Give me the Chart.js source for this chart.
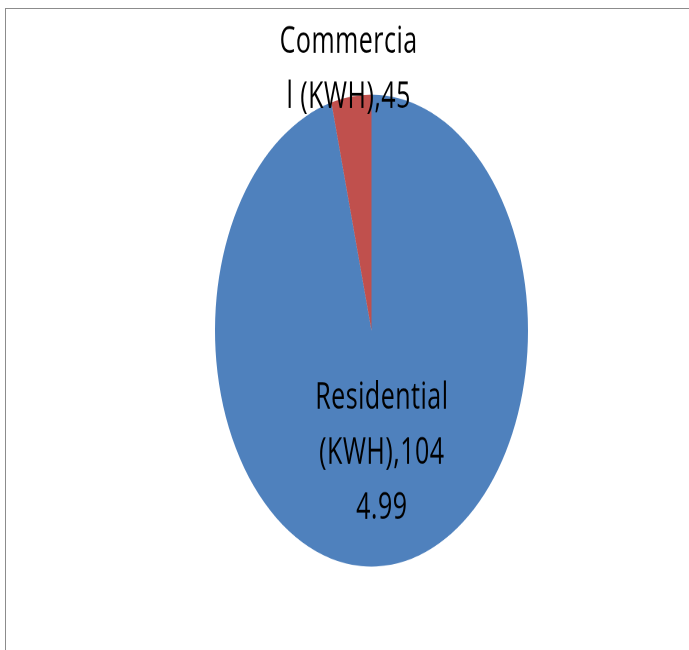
<!DOCTYPE html>
<html>
<head>
<meta charset="utf-8">
<script src="https://cdn.jsdelivr.net/npm/chart.js@4.4.0/dist/chart.umd.min.js"></script>
<style>
  html, body { margin: 0; padding: 0; background: #fff; }
  #page { position: relative; width: 689px; height: 650px; overflow: hidden; }
  #frame { position: absolute; left: 5px; top: 8px; width: 700px; height: 660px;
           border-top: 1px solid #8c8c8c; border-left: 1px solid #8c8c8c; }
  /* the source picture is stretched vertically, so the chart is drawn flat and scaled */
  #stretch { position: absolute; left: 0; top: 0; width: 689px; height: 431px;
             transform: scaleY(1.508); transform-origin: 0 0; }
</style>
</head>
<body>
<div id="page">
  <div id="frame"></div>
  <div id="stretch"><canvas id="pieChart"></canvas></div>
</div>
<script>
// data
const categories = ['Residential (KWH)', 'Commercial (KWH)'];
const values = [1044.99, 45];
// data label text as wrapped in the original
const labelLines = [
    ['Residential', '(KWH),104', '4.99'],
    ['Commercia', 'l (KWH),45']
];
const colors = ['#4F81BD', '#C0504D'];

// how far from the centre each label sits, as a share of the radius
const labelDistance = [0.512, 1.128];

const sliceLabels = {
    id: 'sliceLabels',
    afterDraw(chart) {
        const ctx = chart.ctx;
        const arcs = chart.getDatasetMeta(0).data;
        const size = 25;
        const lineHeight = 36.4;
        const capHalf = size * 0.714 / 2;
        ctx.save();
        ctx.font = size + 'px "Open Sans"';
        ctx.letterSpacing = '0.5px';
        ctx.fillStyle = '#000';
        ctx.textAlign = 'center';
        ctx.textBaseline = 'alphabetic';
        arcs.forEach((arc, i) => {
            const p = arc.getProps(['x', 'y', 'startAngle', 'endAngle', 'outerRadius'], true);
            const mid = (p.startAngle + p.endAngle) / 2;
            const d = p.outerRadius * labelDistance[i];
            const cx = p.x + Math.cos(mid) * d;
            const cy = p.y + Math.sin(mid) * d;
            const lines = labelLines[i];
            lines.forEach((t, j) => {
                const y = cy + (j - (lines.length - 1) / 2) * lineHeight + capHalf;
                ctx.fillText(t, cx, y);
            });
        });
        ctx.restore();
    }
};

const config = {
    type: 'pie',
    data: {
        labels: categories,
        datasets: [{
            data: values,
            backgroundColor: colors,
            borderWidth: 0
        }]
    },
    options: {
        responsive: true,
        maintainAspectRatio: false,
        animation: false,
        devicePixelRatio: 2,
        layout: {
            padding: { left: 215, right: 161, top: 62.7, bottom: 55.3 }
        },
        plugins: {
            legend: { display: false },
            tooltip: { enabled: false },
            title: { display: false }
        }
    },
    plugins: [sliceLabels]
};

const pieChart = new Chart(document.getElementById('pieChart'), config);
</script>
</body>
</html>
